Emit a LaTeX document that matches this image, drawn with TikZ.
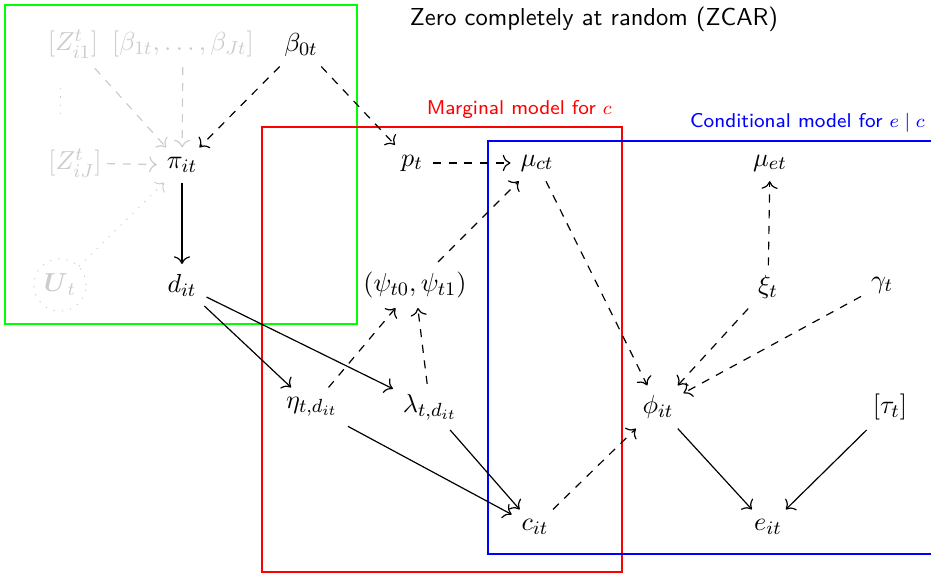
\documentclass[tikz,border=0pt]{standalone}
\usepackage{amsmath}
\usepackage{amssymb}
\usepackage{tikz}
\usepackage{xcolor}
\usetikzlibrary{arrows.meta, positioning}
\definecolor{FadeInk}{gray}{0.80}

\begin{document}
\begin{tikzpicture}[
    x=0.42pt, y=-0.42pt,
    >={To[scale=1.2]},
    var/.style={inner sep=4pt, font=\fontsize{11.3}{13}\selectfont},
    faded/.style={var, text=FadeInk},
    hard/.style={->, line width=0.5pt},
    soft/.style={hard, dash pattern=on 3.4pt off 3.2pt},
    ghost/.style={soft, draw=FadeInk},
    sparse/.style={draw=FadeInk, dash pattern=on 0.5pt off 3pt},
    boxline/.style={line width=1.1pt},
    tag/.style={font=\sffamily\fontsize{8.4}{10}\selectfont, anchor=south east},
  ]
    \clip (0,0) rectangle (931,574);
    \useasboundingbox (0,0) rectangle (931,574);

    % model boxes
    \draw[boxline, green] (5,5) rectangle (357,324);
    \draw[boxline, red] (262,127) rectangle (622,572);
    \draw[boxline, blue] (488,141) rectangle (960,554);
    \node[font=\sffamily\fontsize{10.3}{12}\selectfont] (title) at (594,19) {Zero completely at random (ZCAR)};
    \node[tag, text=red] (margtag) at (620,127) {Marginal model for $c$};
    \node[tag, text=blue] (condtag) at (933,141) {Conditional model for $e\mid c$};

    % treatment assignment
    \node[faded] (zfirst) at (73,44) {$[Z^t_{i1}]$};
    \node[faded] (betas) at (183,44) {$[\beta_{1t},\dots,\beta_{Jt}]$};
    \node[var] (beta0) at (301,45) {$\beta_{0t}$};
    \node[faded, inner sep=2pt] (zlast) at (75,163) {$[Z^t_{iJ}]$};
    \node[var] (pi) at (182,165) {$\pi_{it}$};
    \node[faded, circle, sparse, minimum size=22pt, inner sep=0pt] (u) at (60,285) {$\boldsymbol{U}_t$};
    \node[var] (d) at (182,285) {$d_{it}$};
    \coordinate (vtop) at (60,88);
    \coordinate (vbot) at (60,120);

    % marginal part
    \node[var] (p) at (412,163) {$p_t$};
    \node[var] (muc) at (537,163) {$\mu_{ct}$};
    \node[var] (psi) at (415,285) {$(\psi_{t0},\psi_{t1})$};
    \node[var] (eta) at (312,407) {$\eta_{t,d_{it}}$};
    \node[var] (lambda) at (430,407) {$\lambda_{t,d_{it}}$};
    \node[var] (c) at (535,527) {$c_{it}$};

    % conditional part
    \node[var] (mue) at (770,163) {$\mu_{et}$};
    \node[var] (xi) at (768,287) {$\xi_t$};
    \node[var] (gamma) at (882,285) {$\gamma_t$};
    \node[var] (phi) at (658,407) {$\phi_{it}$};
    \node[var] (tau) at (890,407) {$[\tau_t]$};
    \node[var] (e) at (768,527) {$e_{it}$};

    \draw[sparse] (vtop) -- (vbot);
    \draw[ghost] (zfirst) -- (pi);
    \draw[ghost] (betas) -- (pi);
    \draw[ghost] (zlast) -- (pi);
    \draw[->, sparse] (u) -- (pi);
    \draw[soft] (beta0) -- (pi);
    \draw[soft] (beta0) -- (p);
    \draw[hard] (pi) -- (d);
    \draw[hard] (d) -- (eta);
    \draw[hard] (d) -- (lambda);
    \draw[soft] (p) -- (muc);
    \draw[soft] (eta) -- (psi);
    \draw[soft] (lambda) -- (psi);
    \draw[soft] (psi) -- (muc);
    \draw[hard] (eta) -- (c);
    \draw[hard] (lambda) -- (c);
    \draw[soft] (muc) -- (phi);
    \draw[soft] (c) -- (phi);
    \draw[soft] (xi) -- (mue);
    \draw[soft] (xi) -- (phi);
    \draw[soft] (gamma) -- (phi);
    \draw[hard] (phi) -- (e);
    \draw[hard] (tau) -- (e);
  \end{tikzpicture}
\end{document}
